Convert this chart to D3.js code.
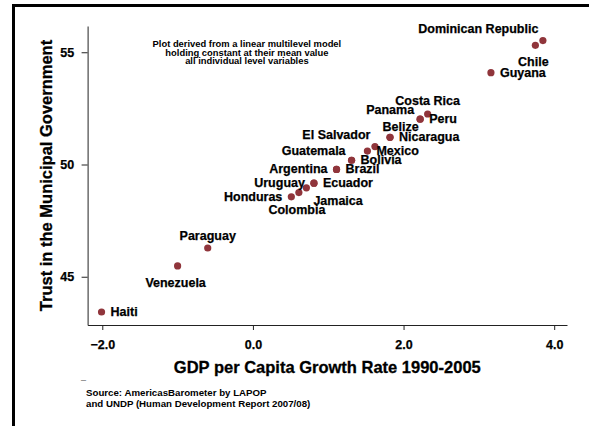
<!DOCTYPE html>
<html><head><meta charset="utf-8">
<script src="https://cdn.jsdelivr.net/npm/d3@7"></script>
<style>
body{margin:0;background:#fff}
svg{display:block}
text{font-family:"Liberation Sans",Arial,Helvetica,sans-serif;font-weight:bold;fill:#000}
</style>
</head><body>
<script>
// ---- data ----
const countries = ["Haiti","Venezuela","Paraguay","Honduras","Colombia","Jamaica","Uruguay","Ecuador","Argentina","Brazil","Guatemala","Bolivia","Mexico","El Salvador","Belize","Nicaragua","Panama","Peru","Costa Rica","Guyana","Chile","Dominican Republic"];
const gdpGrowth = [-2.01,-1.00,-0.60,0.51,0.61,0.71,0.81,0.81,1.11,1.11,1.31,1.31,1.52,1.62,1.82,1.82,2.22,2.22,2.32,3.16,3.75,3.85];
const trust     = [43.43,45.48,46.28,48.56,48.75,48.96,49.17,49.17,49.78,49.78,50.19,50.19,50.60,50.80,51.21,51.21,52.02,52.02,52.25,54.09,55.31,55.52];
const labelClock = [3,6,12,9,6,4,9,3,9,3,10,3,3,11,1,3,10,3,12,3,6,11];
const xTicks = [-2,0,2,4];
const yTicks = [45,50,55];
const xTitle = "GDP per Capita Growth Rate 1990-2005";
const yTitle = "Trust in the Municipal Government";
const noteLines = ["Plot derived from a linear multilevel model","holding constant at their mean value","all individual level variables"];
const noteAt = [-0.08, 55];
const sourceLines = ["Source: AmericasBarometer by LAPOP","and UNDP (Human Development Report 2007/08)"];

// ---- layout ----
const W = 589, H = 426;
const plot = {left: 87.6, right: 567, top: 26, bottom: 325};
const markerColor = "#90353b";

const svg = d3.select("body").append("svg").attr("width", W).attr("height", H);

// outer frame (top & left visible)
svg.append("line").attr("x1",13.5).attr("x2",W+5).attr("y1",5.5).attr("y2",5.5).attr("stroke","#000").attr("stroke-width",3);
svg.append("line").attr("x1",13.5).attr("x2",13.5).attr("y1",4).attr("y2",H+5).attr("stroke","#000").attr("stroke-width",3);

const x = d3.scaleLinear().domain([-2.195, 4.17]).range([plot.left, plot.right]);
const y = d3.scaleLinear().domain([42.85, 56.17]).range([plot.bottom, plot.top]);

const xAxis = svg.append("g").attr("transform", `translate(0,${plot.bottom})`)
  .call(d3.axisBottom(x).tickValues(xTicks).tickFormat(d3.format(".1f")).tickSize(5).tickSizeOuter(0).tickPadding(10));
const yAxis = svg.append("g").attr("transform", `translate(${plot.left},0)`)
  .call(d3.axisLeft(y).tickValues(yTicks).tickFormat(d3.format("d")).tickSize(6).tickSizeOuter(0).tickPadding(7.5));
[xAxis, yAxis].forEach(g => {
  g.attr("font-family", null).attr("font-size", null);
  g.selectAll("path, line").attr("stroke", "#222").attr("stroke-width", 1);
  g.selectAll("text").style("font-size", "12.5px").attr("stroke","#000").attr("stroke-width",0.25);
});

// axis titles
svg.append("text").attr("x", (plot.left+plot.right)/2).attr("y", 367).attr("text-anchor","middle")
  .attr("dominant-baseline","central").style("font-size","16.5px").attr("stroke","#000").attr("stroke-width",0.3).text(xTitle);
svg.append("text").attr("transform", `translate(46,${(plot.top+plot.bottom)/2}) rotate(-90)`).attr("text-anchor","middle")
  .attr("dominant-baseline","central").style("font-size","16.5px").attr("stroke","#000").attr("stroke-width",0.3).text(yTitle);

// note
noteLines.forEach((t,i) => {
  svg.append("text").attr("x", x(noteAt[0])).attr("y", y(noteAt[1]) + (i-1)*8.6)
    .attr("text-anchor","middle").attr("dominant-baseline","central").style("font-size","9.4px").text(t);
});

// source
svg.append("text").attr("x", 81).attr("y", 387).style("font-size","9px").text("¯");
sourceLines.forEach((t,i) => {
  svg.append("text").attr("x", 86).attr("y", 392 + i*11).attr("dominant-baseline","central")
    .style("font-size","9.7px").text(t);
});

// points
const data = countries.map((c,i) => ({c, gx: gdpGrowth[i], t: trust[i], clock: labelClock[i]}));
svg.append("g").selectAll("circle").data(data).join("circle")
  .attr("cx", d => x(d.gx)).attr("cy", d => y(d.t)).attr("r", 3.6).attr("fill", markerColor);

const off = {
  3:  {a:"start",  dx:9,   dy:0},
  9:  {a:"end",    dx:-9,  dy:0},
  12: {a:"middle", dx:0,   dy:-12.5},
  6:  {a:"middle", dx:-2,  dy:17},
  10: {a:"end",    dx:-6,  dy:-9},
  11: {a:"end",    dx:-4.5,dy:-11.5},
  1:  {a:"start",  dx:-7.5,dy:-10},
  4:  {a:"start",  dx:7,   dy:13}
};
svg.append("g").selectAll("text").data(data).join("text")
  .attr("x", d => x(d.gx) + off[d.clock].dx)
  .attr("y", d => y(d.t) + off[d.clock].dy)
  .attr("text-anchor", d => off[d.clock].a)
  .attr("dominant-baseline","central")
  .style("font-size","12.5px")
  .attr("stroke","#000").attr("stroke-width",0.25)
  .text(d => d.c);
</script>
</body></html>
